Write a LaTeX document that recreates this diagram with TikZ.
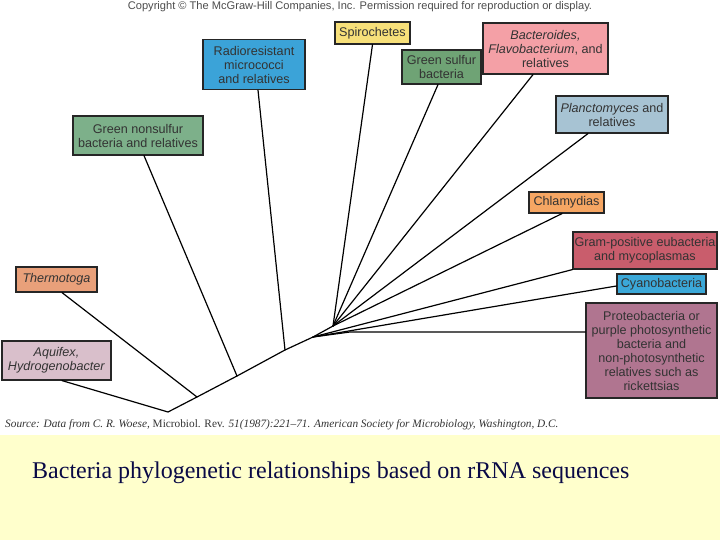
\documentclass[tikz,border=0pt]{standalone}
\usepackage{fontspec}
\setmainfont{Liberation Serif}
\setsansfont{Liberation Sans}
\definecolor{bandyellow}{RGB}{255,255,204}
\definecolor{captionblue}{RGB}{10,10,70}
\definecolor{spiroyellow}{RGB}{247,224,122}
\definecolor{radioblue}{RGB}{59,163,216}
\definecolor{sulfurgreen}{RGB}{111,163,117}
\definecolor{bactpink}{RGB}{244,160,166}
\definecolor{plancgray}{RGB}{167,195,211}
\definecolor{nonsulfurgreen}{RGB}{125,176,138}
\definecolor{chlamorange}{RGB}{246,166,99}
\definecolor{gramred}{RGB}{201,93,108}
\definecolor{cyanoblue}{RGB}{59,168,216}
\definecolor{proteomauve}{RGB}{176,117,144}
\definecolor{thermoorange}{RGB}{233,160,122}
\definecolor{aquifpink}{RGB}{217,191,203}
\begin{document}
\begin{tikzpicture}[x=1pt,y=-1pt,
    taxon/.style={draw=black!85,line width=1.2pt,align=center,inner sep=0pt,
        font=\sffamily\fontsize{12.6}{14}\selectfont,text=black!80},
    branch/.style={line width=1.2pt,line cap=round,line join=round}]
    \useasboundingbox (0,0) rectangle (720,540);

    % Caption band
    \fill[bandyellow] (0,435) rectangle (720,540);
    \node[anchor=base west,inner sep=0pt,font=\fontsize{24}{28}\selectfont,text=captionblue] (caption)
        at (32,478) {Bacteria phylogenetic relationships based on rRNA sequences};
    \node[font=\sffamily\fontsize{11.1}{13}\selectfont,text=black!70] (copyright)
        at (360,7) {Copyright © The McGraw-Hill Companies, Inc. Permission required for reproduction or display.};
    \node[anchor=west,inner sep=0pt,font=\fontsize{11.3}{13}\selectfont\itshape,text=black!80] (source)
        at (5,425) {Source: Data from C. R. Woese, \textup{Microbiol. Rev.} 51(1987):221--71. American Society for Microbiology, Washington, D.C.};

    % Taxa
    \node[taxon,fill=spiroyellow,minimum width=75,minimum height=22] (spiro) at (372.5,33) {Spirochetes};
    \node[taxon,fill=radioblue,minimum width=102,minimum height=50] (radio) at (254,64.5) {Radioresistant\\micrococci\\and relatives};
    \node[taxon,fill=sulfurgreen,minimum width=79,minimum height=34] (sulfur) at (441.5,67) {Green sulfur\\bacteria};
    \node[taxon,fill=bactpink,minimum width=125,minimum height=51] (bact) at (545.5,48.5) {\textit{Bacteroides,}\\\textit{Flavobacterium}, and\\relatives};
    \node[taxon,fill=plancgray,minimum width=112,minimum height=37] (planc) at (612,114.5) {\textit{Planctomyces} and\\relatives};
    \node[taxon,fill=nonsulfurgreen,minimum width=130,minimum height=39] (nonsulfur) at (138,135.5) {Green nonsulfur\\bacteria and relatives};
    \node[taxon,fill=chlamorange,minimum width=75,minimum height=21] (chlam) at (566.5,202.5) {Chlamydias};
    \node[taxon,fill=gramred,minimum width=144,minimum height=37] (gram) at (645,250.5) {Gram-positive eubacteria\\and mycoplasmas};
    \node[taxon,fill=cyanoblue,minimum width=89,minimum height=20] (cyano) at (661.5,284) {Cyanobacteria};
    \node[taxon,fill=proteomauve,minimum width=131,minimum height=95] (proteo) at (651.5,350.5) {Proteobacteria or\\purple photosynthetic\\bacteria and\\non-photosynthetic\\relatives such as\\rickettsias};
    \node[taxon,fill=thermoorange,minimum width=81,minimum height=25] (thermo) at (56.5,279.5) {\textit{Thermotoga}};
    \node[taxon,fill=aquifpink,minimum width=109,minimum height=39] (aquif) at (56.5,360.5) {\textit{Aquifex,}\\\textit{Hydrogenobacter}};

    % Forks of the tree
    \coordinate (root) at (168,412);
    \coordinate (forkThermo) at (197,397);
    \coordinate (forkNonsulfur) at (237,376);
    \coordinate (forkRadio) at (285,350);
    \coordinate (forkProteo) at (313,337);
    \coordinate (forkSpiro) at (333,326);
    \coordinate (proteoBend) at (350,332);

    % Trunk
    \draw[branch] ([xshift=5.5pt]aquif.south) -- (root) -- (forkThermo) -- (forkNonsulfur)
        -- (forkRadio) -- (forkProteo) -- (forkSpiro);
    \draw[branch] (forkThermo) -- ([xshift=5.5pt]thermo.south);
    \draw[branch] (forkNonsulfur) -- ([xshift=6pt]nonsulfur.south);
    \draw[branch] (forkRadio) -- ([xshift=4pt]radio.south);
    \draw[branch] (forkProteo) -- (gram.south west);
    \draw[branch] (forkProteo) -- ([yshift=-2pt]cyano.west);
    \draw[branch] (forkProteo) -- (proteoBend) -- ([yshift=18.5pt]proteo.west);
    \draw[branch] (forkSpiro) -- (spiro.south);
    \draw[branch] (forkSpiro) -- ([xshift=-3.5pt]sulfur.south);
    \draw[branch] (forkSpiro) -- ([xshift=-12.5pt]bact.south);
    \draw[branch] (forkSpiro) -- ([xshift=-24pt]planc.south);
    \draw[branch] (forkSpiro) -- ([xshift=-4.5pt]chlam.south);
\end{tikzpicture}
\end{document}
